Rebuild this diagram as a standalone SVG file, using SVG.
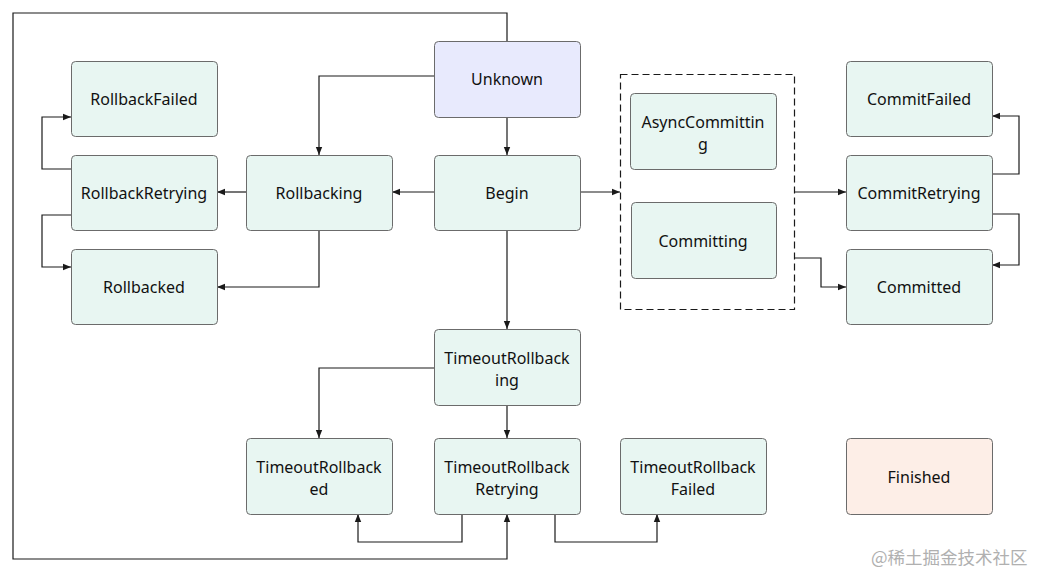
<svg xmlns="http://www.w3.org/2000/svg" width="1038" height="573" viewBox="0 0 1038 573">
<defs>
<marker id="ah" markerWidth="8" markerHeight="8" refX="8" refY="4" orient="auto" markerUnits="userSpaceOnUse">
<path d="M0,0.8 L8,4 L0,7.2 Z" fill="#1a1a1a"/>
</marker>
<style>
.n{fill:#e8f6f2;stroke:#6b6b6b;stroke-width:1}
.u{fill:#e8eafd;stroke:#6b6b6b;stroke-width:1}
.f{fill:#fdeee7;stroke:#6b6b6b;stroke-width:1}
.t{font-family:"Noto Sans","Open Sans",sans-serif;font-size:16px;fill:#111111;text-anchor:middle}
.c{fill:none;stroke:#1a1a1a;stroke-width:1.2;marker-end:url(#ah)}
.w{font-family:"Noto Sans CJK SC",sans-serif;font-size:17.5px;fill:#b0b0b0}
</style>
</defs>
<rect width="1038" height="573" fill="#ffffff"/>
<g id="connectors">
<path class="c" d="M434,76 H319 V155"/>
<path class="c" d="M507,117 V155"/>
<path class="c" d="M507,41 V13 H13 V559 H507 V514"/>
<path class="c" d="M434,192 H392"/>
<path class="c" d="M246,192 H217"/>
<path class="c" d="M319,230 V287 H217"/>
<path class="c" d="M71,169 H42 V117 H71"/>
<path class="c" d="M71,215 H42 V267 H71"/>
<path class="c" d="M580,192 H620"/>
<path class="c" d="M795,192 H846"/>
<path class="c" d="M795,258 H821 V287 H846"/>
<path class="c" d="M992,174 H1019 V116 H992"/>
<path class="c" d="M992,214 H1019 V265 H992"/>
<path class="c" d="M507,230 V329"/>
<path class="c" d="M434,368 H319 V438"/>
<path class="c" d="M507,405 V438"/>
<path class="c" d="M462,514 V542 H358 V514"/>
<path class="c" d="M555,514 V542 H657 V514"/>
</g>
<g id="group-commit">
<rect x="620.5" y="74.5" width="174" height="235" fill="none" stroke="#1a1a1a" stroke-width="1.2" stroke-dasharray="7,4"/>
</g>
<g id="Unknown"><rect class="u" x="434.5" y="41.5" width="146" height="76" rx="4"/><text class="t" x="507" y="85">Unknown</text></g>
<g id="RollbackFailed"><rect class="n" x="71.5" y="61.5" width="146" height="75" rx="4"/><text class="t" x="144" y="105">RollbackFailed</text></g>
<g id="RollbackRetrying"><rect class="n" x="71.5" y="155.5" width="146" height="75" rx="4"/><text class="t" x="144" y="199">RollbackRetrying</text></g>
<g id="Rollbacked"><rect class="n" x="71.5" y="249.5" width="146" height="75" rx="4"/><text class="t" x="144" y="293">Rollbacked</text></g>
<g id="Rollbacking"><rect class="n" x="246.5" y="155.5" width="146" height="75" rx="4"/><text class="t" x="319" y="199">Rollbacking</text></g>
<g id="Begin"><rect class="n" x="434.5" y="155.5" width="146" height="75" rx="4"/><text class="t" x="507" y="199">Begin</text></g>
<g id="AsyncCommitting"><rect class="n" x="630.5" y="93.5" width="146" height="76" rx="4"/><text class="t" x="703" y="128">AsyncCommittin</text><text class="t" x="703" y="150">g</text></g>
<g id="Committing"><rect class="n" x="631.5" y="202.5" width="145" height="76" rx="4"/><text class="t" x="703" y="247">Committing</text></g>
<g id="CommitFailed"><rect class="n" x="846.5" y="61.5" width="146" height="75" rx="4"/><text class="t" x="919" y="105">CommitFailed</text></g>
<g id="CommitRetrying"><rect class="n" x="846.5" y="155.5" width="146" height="75" rx="4"/><text class="t" x="919" y="199">CommitRetrying</text></g>
<g id="Committed"><rect class="n" x="846.5" y="249.5" width="146" height="75" rx="4"/><text class="t" x="919" y="293">Committed</text></g>
<g id="TimeoutRollbacking"><rect class="n" x="434.5" y="329.5" width="146" height="76" rx="4"/><text class="t" x="507" y="364">TimeoutRollback</text><text class="t" x="507" y="386">ing</text></g>
<g id="TimeoutRollbacked"><rect class="n" x="246.5" y="438.5" width="146" height="76" rx="4"/><text class="t" x="319" y="473">TimeoutRollback</text><text class="t" x="319" y="495">ed</text></g>
<g id="TimeoutRollbackRetrying"><rect class="n" x="434.5" y="438.5" width="146" height="76" rx="4"/><text class="t" x="507" y="473">TimeoutRollback</text><text class="t" x="507" y="495">Retrying</text></g>
<g id="TimeoutRollbackFailed"><rect class="n" x="620.5" y="438.5" width="146" height="76" rx="4"/><text class="t" x="693" y="473">TimeoutRollback</text><text class="t" x="693" y="495">Failed</text></g>
<g id="Finished"><rect class="f" x="846.5" y="438.5" width="146" height="76" rx="4"/><text class="t" x="919" y="483">Finished</text></g>
<text class="w" x="871" y="564">@稀土掘金技术社区</text>
</svg>
